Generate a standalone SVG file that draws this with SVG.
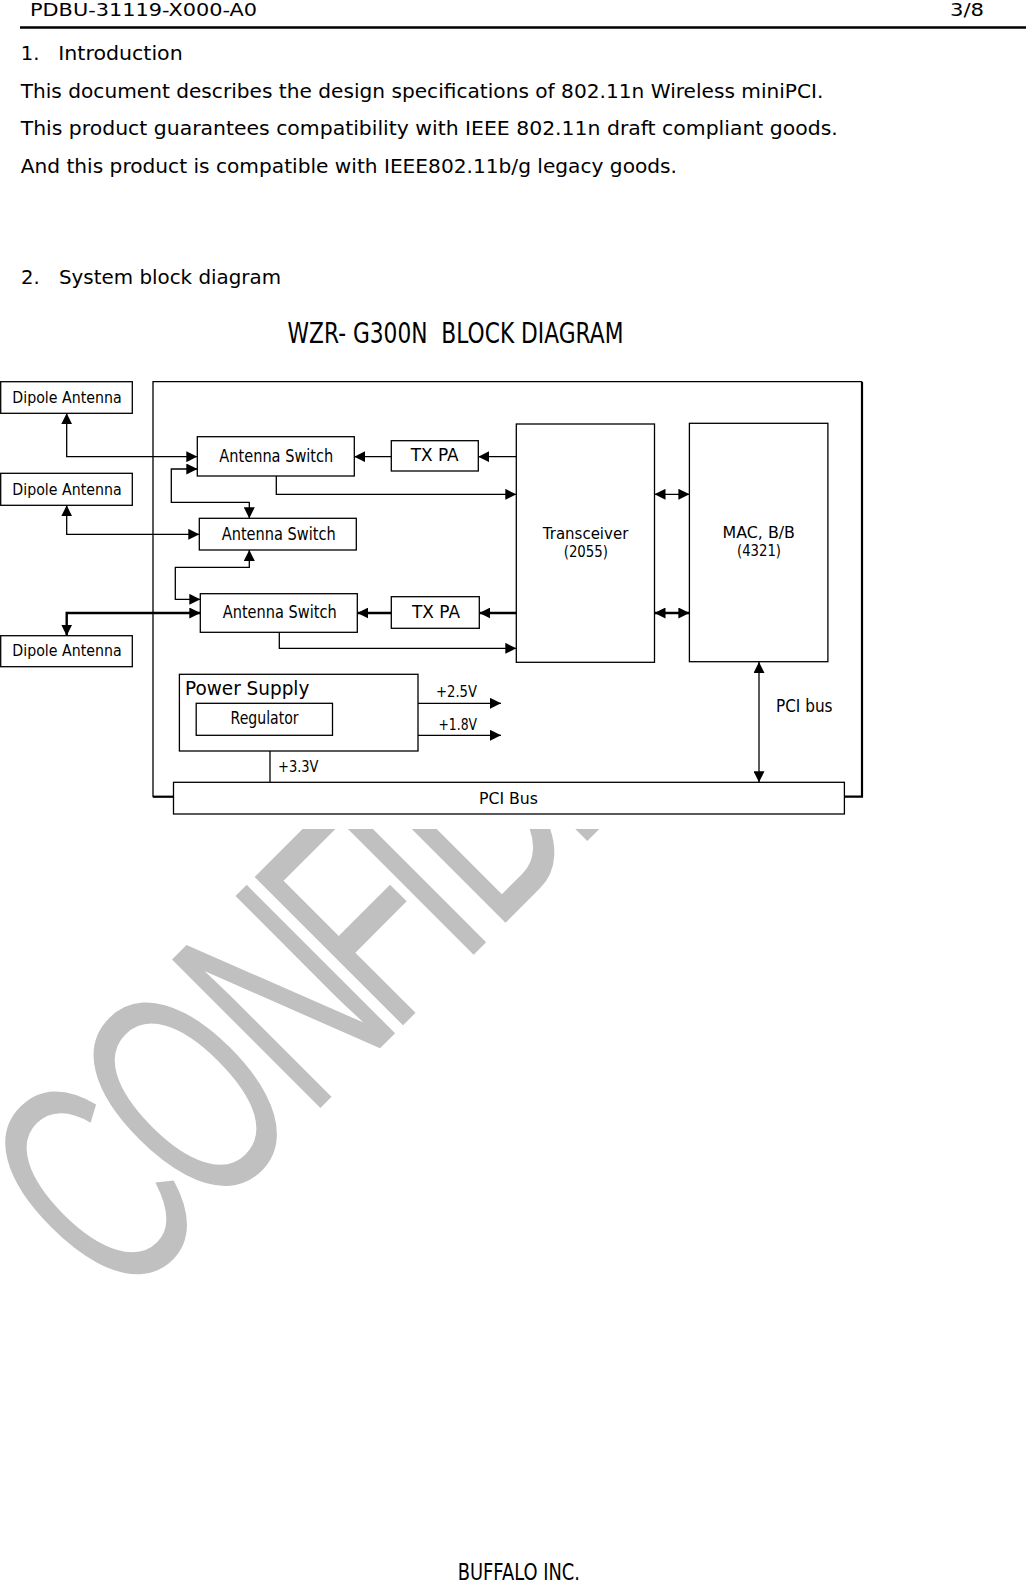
<svg xmlns="http://www.w3.org/2000/svg" width="1027" height="1582" viewBox="0 0 1027 1582">
<defs>
<style>
.t{font-family:"DejaVu Sans","Liberation Sans",sans-serif;fill:#000}
.box{fill:#fff;stroke:#000;stroke-width:1.3}
.ln{fill:none;stroke:#000;stroke-width:1.3}
.thk{stroke-width:2.4}
.wm{font-family:"Liberation Sans",Arial,sans-serif;font-size:305px;fill:#c0c0c0}
</style>
<marker id="ah" viewBox="0 0 11 11" refX="11" refY="5.5" markerWidth="11" markerHeight="11" markerUnits="userSpaceOnUse" orient="auto-start-reverse">
<path d="M0,0 L11,5.5 L0,11 z" fill="#000"/>
</marker>
<clipPath id="wmclip"><rect x="0" y="829" width="1027" height="753"/></clipPath>
</defs>
<rect x="0" y="0" width="1027" height="1582" fill="#fff"/>

<g id="watermark" clip-path="url(#wmclip)">
<text class="wm" transform="translate(714.15 714.15) rotate(-45) scale(0.62 1)" x="-1356.8 -1155 -923.2 -734.7 -576.8 -500.9 -314.4" y="0">CONFIDENTIAL</text>
</g>

<g id="page-text">
<text class="t" x="30" y="16" font-size="17" textLength="227" lengthAdjust="spacingAndGlyphs">PDBU-31119-X000-A0</text>
<text class="t" x="950" y="16" font-size="17" textLength="34" lengthAdjust="spacingAndGlyphs">3/8</text>
<line x1="20" y1="27.5" x2="1026" y2="27.5" stroke="#000" stroke-width="2.5"/>
<text class="t" x="20.7" y="60" font-size="19.6">1.</text>
<text class="t" x="58.3" y="60" font-size="19.6" textLength="124.4" lengthAdjust="spacingAndGlyphs">Introduction</text>
<text class="t" x="20.7" y="97.7" font-size="19.6" textLength="802.7" lengthAdjust="spacingAndGlyphs">This document describes the design specifications of 802.11n Wireless miniPCI.</text>
<text class="t" x="20.7" y="135" font-size="19.6" textLength="817.1" lengthAdjust="spacingAndGlyphs">This product guarantees compatibility with IEEE 802.11n draft compliant goods.</text>
<text class="t" x="20.7" y="172.7" font-size="19.6" textLength="656.3" lengthAdjust="spacingAndGlyphs">And this product is compatible with IEEE802.11b/g legacy goods.</text>
<text class="t" x="21" y="284" font-size="19.6">2.</text>
<text class="t" x="59" y="284" font-size="19.6" textLength="222" lengthAdjust="spacingAndGlyphs">System block diagram</text>
<text class="t" x="287.5" y="343" font-size="28" textLength="336" lengthAdjust="spacingAndGlyphs" style="white-space:pre">WZR- G300N  BLOCK DIAGRAM</text>
<text class="t" x="457.7" y="1580" font-size="22.5" textLength="122.3" lengthAdjust="spacingAndGlyphs">BUFFALO INC.</text>
</g>

<g id="frame">
<polyline class="ln" points="173.5,796.7 153,796.7 153,381.7 862,381.7"/>
<polyline fill="none" stroke="#000" stroke-width="2.2" points="862,381.7 862,796.7 844.4,796.7"/>
<line x1="153" y1="796.7" x2="173.5" y2="796.7" stroke="#000" stroke-width="2.2"/>
</g>

<g id="connectors">
<path class="ln" d="M66.7,413.3 V456.7 H197.3" marker-start="url(#ah)" marker-end="url(#ah)"/>
<path class="ln" d="M197.3,469 H171.3 V502.3 H249.3 V518.3" marker-start="url(#ah)" marker-end="url(#ah)"/>
<path class="ln" d="M66.7,505.3 V534.3 H199.3" marker-start="url(#ah)" marker-end="url(#ah)"/>
<path class="ln" d="M249.3,550 V567.3 H175.3 V599.3 H200.3" marker-start="url(#ah)" marker-end="url(#ah)"/>
<path class="ln thk" d="M66.7,635.7 V613 H200.3" marker-start="url(#ah)" marker-end="url(#ah)"/>
<path class="ln" d="M391.3,456.7 H354.3" marker-end="url(#ah)"/>
<path class="ln" d="M516.3,456.7 H478.3" marker-end="url(#ah)"/>
<path class="ln" d="M276.3,476 V494.3 H516.3" marker-end="url(#ah)"/>
<path class="ln thk" d="M391.3,613 H357.3" marker-end="url(#ah)"/>
<path class="ln thk" d="M516.3,613 H479.3" marker-end="url(#ah)"/>
<path class="ln" d="M279.3,632.3 V648.3 H516.3" marker-end="url(#ah)"/>
<path class="ln" d="M654.5,494.3 H689.4" marker-start="url(#ah)" marker-end="url(#ah)"/>
<path class="ln thk" d="M654.5,613 H689.4" marker-start="url(#ah)" marker-end="url(#ah)"/>
<path class="ln" d="M759,662 V782.3" marker-start="url(#ah)" marker-end="url(#ah)"/>
<path class="ln" d="M270,782.3 V735.3" marker-end="url(#ah)"/>
<path class="ln" d="M418,703.3 H501" marker-end="url(#ah)"/>
<path class="ln" d="M418,735.3 H501" marker-end="url(#ah)"/>
</g>

<g id="dipole1">
<rect class="box" x="0.7" y="381.7" width="131.6" height="31.6"/>
<text class="t" x="12.3" y="402.7" font-size="16.5" textLength="109.4" lengthAdjust="spacingAndGlyphs">Dipole Antenna</text>
</g>
<g id="dipole2">
<rect class="box" x="0.7" y="473.3" width="131.6" height="32"/>
<text class="t" x="12.3" y="495" font-size="16.5" textLength="109.4" lengthAdjust="spacingAndGlyphs">Dipole Antenna</text>
</g>
<g id="dipole3">
<rect class="box" x="0.7" y="635.7" width="131.6" height="31"/>
<text class="t" x="12.3" y="656" font-size="16.5" textLength="109.4" lengthAdjust="spacingAndGlyphs">Dipole Antenna</text>
</g>

<g id="antenna-switch1">
<rect class="box" x="197.3" y="436.7" width="157" height="39.3"/>
<text class="t" x="219.3" y="462.3" font-size="18" textLength="114" lengthAdjust="spacingAndGlyphs">Antenna Switch</text>
</g>
<g id="antenna-switch2">
<rect class="box" x="199.3" y="518.3" width="157" height="31.7"/>
<text class="t" x="221.7" y="540" font-size="18" textLength="114" lengthAdjust="spacingAndGlyphs">Antenna Switch</text>
</g>
<g id="antenna-switch3">
<rect class="box" x="200.3" y="593.7" width="157" height="38.6"/>
<text class="t" x="222.7" y="618.3" font-size="18" textLength="114" lengthAdjust="spacingAndGlyphs">Antenna Switch</text>
</g>

<g id="txpa1">
<rect class="box" x="391.3" y="440.7" width="87" height="30.3"/>
<text class="t" x="410.7" y="461" font-size="17.4" textLength="48" lengthAdjust="spacingAndGlyphs">TX PA</text>
</g>
<g id="txpa2">
<rect class="box" x="391.3" y="596.7" width="88" height="31.6"/>
<text class="t" x="412" y="618.3" font-size="17.4" textLength="48" lengthAdjust="spacingAndGlyphs">TX PA</text>
</g>

<g id="transceiver">
<rect class="box" x="516.3" y="424" width="138.2" height="238.3"/>
<text class="t" x="542.8" y="538.5" font-size="15.5" textLength="85.5" lengthAdjust="spacingAndGlyphs">Transceiver</text>
<text class="t" x="563.7" y="557" font-size="15.5" textLength="44.3" lengthAdjust="spacingAndGlyphs">(2055)</text>
</g>

<g id="mac">
<rect class="box" x="689.4" y="423.3" width="138.5" height="238.4"/>
<text class="t" x="722.5" y="537.5" font-size="15.5" textLength="72.5" lengthAdjust="spacingAndGlyphs">MAC, B/B</text>
<text class="t" x="737" y="556" font-size="15.5" textLength="44" lengthAdjust="spacingAndGlyphs">(4321)</text>
</g>

<g id="power-supply">
<rect class="box" x="179.4" y="674.3" width="238.6" height="76.7"/>
<text class="t" x="185" y="695" font-size="19.6" textLength="124.4" lengthAdjust="spacingAndGlyphs">Power Supply</text>
</g>
<g id="regulator">
<rect class="box" x="196.2" y="703.3" width="136.3" height="32"/>
<text class="t" x="230.6" y="724" font-size="17" textLength="68" lengthAdjust="spacingAndGlyphs">Regulator</text>
</g>

<g id="pci-bus">
<rect class="box" x="173.5" y="782.3" width="670.9" height="31.7"/>
<text class="t" x="479" y="804" font-size="15.5" textLength="59" lengthAdjust="spacingAndGlyphs">PCI Bus</text>
</g>

<g id="labels">
<text class="t" x="278" y="771.7" font-size="16" textLength="40.5" lengthAdjust="spacingAndGlyphs">+3.3V</text>
<text class="t" x="436" y="696.7" font-size="16" textLength="41" lengthAdjust="spacingAndGlyphs">+2.5V</text>
<text class="t" x="438.5" y="730" font-size="16" textLength="38.5" lengthAdjust="spacingAndGlyphs">+1.8V</text>
<text class="t" x="776" y="711.7" font-size="17" textLength="56.5" lengthAdjust="spacingAndGlyphs">PCI bus</text>
</g>
</svg>
